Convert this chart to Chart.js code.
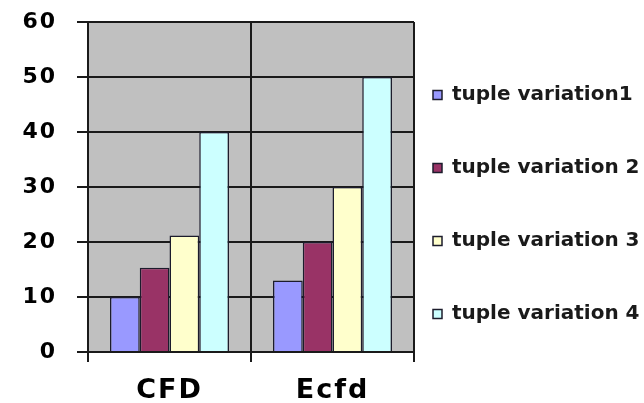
<!DOCTYPE html>
<html>
<head>
<meta charset="utf-8">
<script src="https://cdn.jsdelivr.net/npm/chart.js@4"></script>
<style>
  html, body { margin: 0; padding: 0; background: #fff; }
  #wrap { width: 644px; height: 403px; }
</style>
</head>
<body>
<div id="wrap"><canvas id="chart" width="644" height="403"></canvas></div>
<script>
/* data */
const categories = ['CFD', 'Ecfd'];
const seriesNames = ['tuple variation1', 'tuple variation 2', 'tuple variation 3', 'tuple variation 4'];
const variation1 = [10, 13];
const variation2 = [15.3, 20];
const variation3 = [21.2, 30];
const variation4 = [40, 50];
const colors = ['#9999ff', '#993366', '#ffffcc', '#ccffff'];

Chart.defaults.color = '#000';
Chart.defaults.font.family = '"DejaVu Sans", sans-serif';
Chart.defaults.font.weight = 'bold';

const LEGEND_PAD = 53;

// grey plot area, Excel style
const plotBg = {
  id: 'plotBg',
  beforeDraw(chart) {
    const { ctx, chartArea: a } = chart;
    ctx.save();
    ctx.fillStyle = '#c0c0c0';
    ctx.fillRect(a.left, a.top, a.right - a.left, a.bottom - a.top);
    ctx.restore();
  },
  // axis labels (z:1) are drawn after the bars, widen them a little
  afterDatasetsDraw(chart) { chart.ctx.letterSpacing = '2px'; },
  afterDraw(chart) { chart.ctx.letterSpacing = '0px'; }
};

// legend sits close to the plot but keeps the big row spacing
const legendShift = {
  id: 'legendShift',
  afterLayout(chart) {
    const lg = chart.legend;
    lg.left = chart.chartArea.right + 19 - LEGEND_PAD;
    lg.right = chart.width;
    lg.width = lg.right - lg.left;
    lg.top = 0;
    lg.bottom = 409;
    lg.height = lg.bottom - lg.top;
  }
};

const values = [variation1, variation2, variation3, variation4];

new Chart(document.getElementById('chart'), {
  type: 'bar',
  data: {
    labels: categories,
    datasets: seriesNames.map((name, i) => ({
      label: name,
      data: values[i],
      backgroundColor: colors[i],
      borderColor: '#1c1c2c',
      borderWidth: 1.5,
      categoryPercentage: 0.73,
      barPercentage: 1.0
    }))
  },
  options: {
    responsive: false,
    animation: false,
    layout: { padding: { top: 22 } },
    plugins: {
      tooltip: { enabled: false },
      legend: {
        position: 'right',
        maxWidth: 230,
        labels: {
          boxWidth: 9,
          boxHeight: 9,
          padding: LEGEND_PAD,
          font: { size: 20, weight: 'bold' },
          color: '#1a1a1a'
        }
      }
    },
    scales: {
      x: {
        grid: { color: '#1a1a1a', lineWidth: 2, tickLength: 10, offset: true },
        border: { color: '#1a1a1a', width: 2 },
        ticks: { font: { size: 27, weight: 'bold' }, padding: 13, z: 1 },
        afterFit: s => { s.height = 51; }
      },
      y: {
        min: 0,
        max: 60,
        ticks: { stepSize: 10, font: { size: 22, weight: 'bold' }, padding: 20, z: 1 },
        grid: { color: '#1a1a1a', lineWidth: 2, tickLength: 11 },
        border: { color: '#1a1a1a', width: 2 },
        afterFit: s => { s.width = 88; s.paddingTop = 0; s.paddingBottom = 0; }
      }
    }
  },
  plugins: [plotBg, legendShift]
});
</script>
</body>
</html>
